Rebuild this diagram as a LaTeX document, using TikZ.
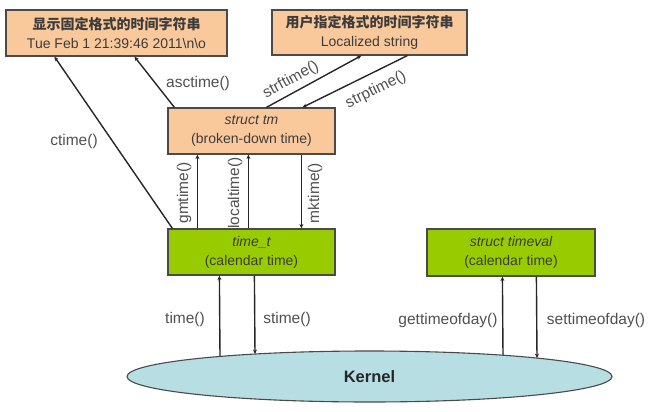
\documentclass[tikz,border=0pt]{standalone}
\usepackage{fontspec}
\setmainfont{Liberation Sans}
\newfontfamily\cjk{Noto Sans CJK SC}
\usetikzlibrary{shapes.geometric,arrows.meta}
\definecolor{peach}{HTML}{FAC99B}
\definecolor{lime}{HTML}{99CC00}
\definecolor{kern}{HTML}{B6DEE3}
\definecolor{edge}{HTML}{4A4A4A}
\definecolor{txt}{HTML}{3C3C3C}
\definecolor{lbl}{HTML}{505050}
\begin{document}
\begin{tikzpicture}[x=1pt,y=-1pt,
  box/.style={draw=edge,line width=1.2pt,rectangle,inner sep=0pt,align=center,text=txt,
    font=\fontsize{14}{19}\selectfont},
  obox/.style={box,fill=peach},
  gbox/.style={box,fill=lime},
  conn/.style={line width=1.4pt,black!85},
  arr/.style={conn,-{Stealth[length=4.5pt,width=4pt]}},
  lab/.style={text=lbl,font=\fontsize{15.5}{18}\selectfont,inner sep=0pt}]
\useasboundingbox (0,0) rectangle (661,412);
\node[obox,minimum width=221pt,minimum height=46pt] (fixed) at (116.5,33)
  {{\cjk\bfseries 显示固定格式的时间字符串}\\Tue Feb 1 21:39:46 2011\textbackslash n\textbackslash o};
\node[obox,minimum width=195pt,minimum height=45pt] (user) at (369.5,32.5)
  {{\cjk\bfseries 用户指定格式的时间字符串}\\Localized string};
\node[obox,minimum width=167pt,minimum height=46pt] (tm) at (251.5,131)
  {\itshape struct tm\\(broken-down time)};
\node[gbox,minimum width=167pt,minimum height=46pt] (timet) at (251.5,252)
  {\itshape time\_t\\(calendar time)};
\node[gbox,minimum width=168pt,minimum height=47pt] (tv) at (511,252.5)
  {\itshape struct timeval\\(calendar time)};
\node[ellipse,draw=edge,line width=1.1pt,fill=kern,minimum width=485pt,minimum height=51pt,inner sep=0pt,
  font=\fontsize{16.5}{18}\selectfont\bfseries,text=black!85] (kernel) at (369.5,376.5) {Kernel};

% diagonal connectors
\draw[arr] ([xshift=5pt]timet.north west) -- ([xshift=49pt]fixed.south west);
\draw[arr] ([xshift=7pt]tm.north west) -- ([xshift=129pt]fixed.south west);
\draw[arr] ([xshift=99pt]tm.north west) -- ([xshift=90pt]user.south west);
\draw[arr] ([xshift=136pt]user.south west) -- ([xshift=135pt]tm.north west);
% vertical connectors tm <-> time_t
\draw[arr] ([xshift=30pt]timet.north west) -- ([xshift=30pt]tm.south west);
\draw[arr] ([xshift=81pt]timet.north west) -- ([xshift=81pt]tm.south west);
\draw[arr] ([xshift=134pt]tm.south west) -- ([xshift=134pt]timet.north west);
% kernel connectors
\draw[arr] ([shift={(-149.5,-20.1)}]kernel.center) -- ([xshift=52pt]timet.south west);
\draw[arr] ([xshift=87pt]timet.south west) -- ([shift={(-114.5,-22.5)}]kernel.center);
\draw[arr] ([shift={(133.5,-21.3)}]kernel.center) -- ([xshift=76pt]tv.south west);
\draw[arr] ([xshift=110pt]tv.south west) -- ([shift={(167.5,-18.4)}]kernel.center);

% labels
\node[lab] (lctime) at (74,141) {ctime()};
\node[lab] (lasc) at (198,83) {asctime()};
\node[lab,rotate=28.7] (lstrf) at (291,80) {strftime()};
\node[lab,rotate=26.3] (lstrp) at (376,90) {strptime()};
\node[lab,rotate=90] (lgm) at (184,193) {gmtime()};
\node[lab,rotate=90] (lloc) at (235,193) {localtime()};
\node[lab,rotate=90] (lmk) at (315,193) {mktime()};
\node[lab] (ltime) at (185,319) {time()};
\node[lab] (lstime) at (287,319) {stime()};
\node[lab] (lget) at (448,320) {gettimeofday()};
\node[lab] (lset) at (596,320) {settimeofday()};
\end{tikzpicture}
\end{document}
